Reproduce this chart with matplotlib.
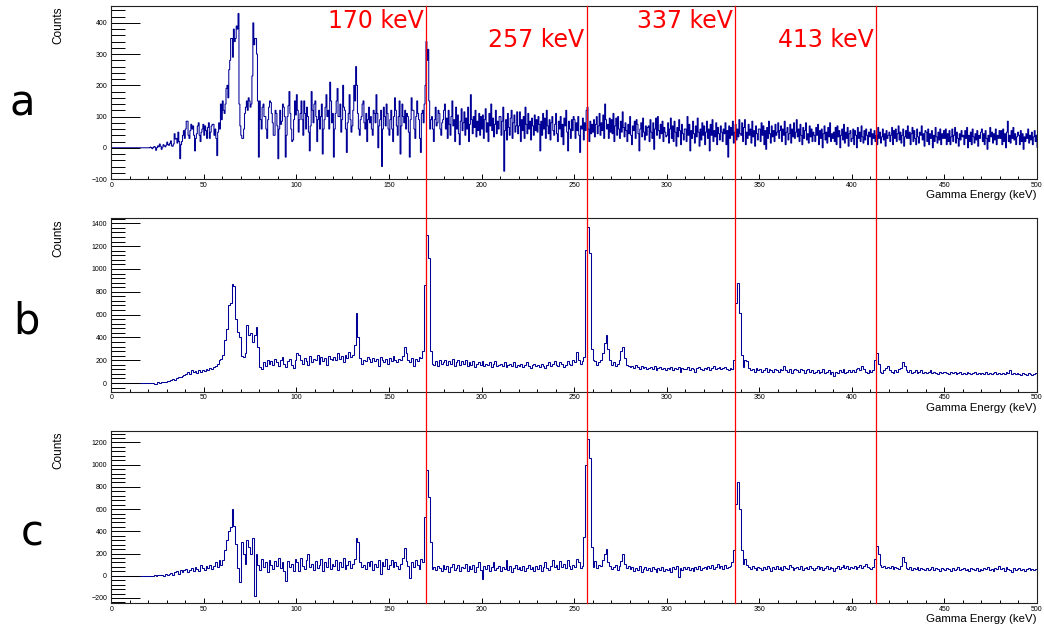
import numpy as np
import matplotlib
matplotlib.use('Agg')
import matplotlib.pyplot as plt
import matplotlib.transforms as mtransforms
from matplotlib.lines import Line2D
from matplotlib.ticker import MultipleLocator

# spectrum a: 0.5 keV bins from 0 keV
counts_a = [
    0, 0, 0, 0, 0, 0, 0, 0, 0, 0, 0, 0, 0, 0, 0, 0, 0, 0, 0, 0,
    0, 0, 0, 0, 0, 0, 0, 0, 0, 0, 0, 0, 0, 0, 0, 0, 0, 0, 0, 0,
    0, 0, 2, 0, -3, 1, 4, 2, -8, 0, 6, 3, 12, 5, -5, 2, 10, 6, 3, 8,
    18, 10, 8, 14, 22, 6, 5, 12, 45, 28, 30, 15, 50, 20, -35, 10, 20, 40, 55, 30,
    60, 85, 85, 40, 30, 55, 75, 60, 70, 40, -10, 30, 45, 70, 80, 40, 20, 50, 60, 75,
    40, 70, 55, 30, 65, 80, 30, 50, 70, 75, 75, 40, 60, 30, -25, 50, 80, 60, 140, 90,
    150, 120, 110, 140, 190, 200, 160, 250, 280, 350, 350, 290, 380, 340, 350, 390, 380, 430, 140, 70,
    40, 30, 30, 60, 110, 130, 150, 120, 160, 150, 130, 140, 230, 400, 330, 350, 350, 300, 150, -30,
    150, 90, 60, 130, 140, 100, 100, 60, 30, 90, 130, 150, 145, 110, 80, 40, 40, 120, 110, 70,
    -35, 60, 120, 75, 85, 140, 130, 100, -30, 40, 100, 135, 180, 110, 60, 20, 25, 90, 150, 105,
    170, 120, 50, 90, 110, 150, 90, 40, 150, 110, 60, 130, 100, 50, -10, 70, 180, 120, 80, 140,
    150, 100, 20, 90, 120, 60, 100, 140, -20, 60, 90, 130, 170, 100, 120, 60, 210, 150, 80, 110,
    -30, 60, 110, 150, 190, 100, 100, 140, 50, 90, 200, 130, 120, 60, -15, 80, 110, 170, 90, 50,
    70, 120, 200, 150, 260, 200, 110, 60, 40, 90, 100, 140, 150, 80, 60, 110, 20, 90, 130, 80,
    100, 60, 40, 120, 110, 80, 170, 110, 0, 70, 90, 120, -60, 60, 130, 100, 70, 140, 110, 60,
    40, 90, 120, 60, 20, 100, 160, 120, 70, 40, 100, 150, -20, 70, 140, 100, 80, 120, 60, 110,
    100, 50, -30, 90, 160, 120, 120, 60, 30, 100, 150, 110, 90, 30, -15, 110, 120, 80, 140, 200,
    340, 280, 315, 150, 60, 90, 100, 60, 20, 90, 130, 70, 80, 120, 110, 60, 40, 80, 90, 120,
    140, 60, 95, 30, 120, 75, 40, 100, 150, 70, 90, 20, 130, 60, 105, 45, 10, 85, 125, 55,
    80, 115, 40, 95, 60, 130, 20, 75, 170, 90, 45, 100, 65, 120, 35, 85, 55, 110, 40, 100,
    60, 105, 30, 90, 125, 50, 80, 20, 110, 70, 140, 55, 95, 35, 75, 120, 45, 85, 60, 100,
    100, 40, 85, 130, -75, 55, 90, 25, 110, 65, 40, 95, 120, 30, 80, 105, 50, 70, 115, 45,
    70, 115, 20, 90, 55, 100, 30, 130, 75, 45, 110, 60, 85, 25, 95, 70, 40, 105, 55, 90,
    50, 100, 75, -10, 85, 40, 110, 60, 95, 30, 120, 70, 45, 90, 25, 80, 100, 55, 40, 75,
    110, 45, 20, 85, 60, 100, 35, 75, 10, 95, 70, 120, 50, -10, 85, 60, 30, 90, 55, 100,
    90, 30, 80, 55, 100, 40, -15, 70, 60, 95, 25, 80, 55, 120, 130, 60, 20, 85, 45, 75,
    50, 90, 35, 75, 100, 45, 70, 110, 40, 80, 55, 105, 30, 140, 90, 60, 75, 30, 95, 50,
    90, 45, 110, 20, 70, 95, 40, 100, 60, 30, 85, 50, 115, 65, 35, 80, 55, 20, 75, 45,
    100, 40, 10, 70, 55, 85, 30, 90, 75, 45, -10, 60, 80, 35, 95, 50, 25, 70, 40, 65,
    70, 20, 90, 50, 30, 80, -5, 60, 95, 40, 100, 55, 30, 75, 45, 85, 20, 65, 50, 35,
    40, 80, 15, 60, 95, 30, 70, 20, 85, 50, 5, 65, 35, 90, 55, 10, 75, 45, 25, 60,
    60, 20, 100, 40, 75, -10, 55, 30, 85, 45, 15, 70, 35, 95, 50, 5, 60, 25, 80, 40,
    70, 10, 50, 85, 30, 60, -10, 75, 40, 90, 20, 55, 35, 80, 10, 65, 45, 25, 70, 50,
    20, 60, 45, 80, 10, 55, -30, 70, 30, 65, 40, 85, 15, 50, 75, 25, 60, 35, 90, 45,
    40, 80, 20, 65, 90, 10, 50, 30, 75, 40, 60, 15, 85, 35, 55, 5, 70, 45, 25, 60,
    60, 20, 80, 40, 70, 10, 55, -5, 65, 30, 85, 45, 15, 70, 35, 55, 20, 75, 40, 50,
    80, 30, 55, 70, 20, 60, 40, 85, 10, 50, 65, 25, 45, 75, 15, 60, 35, 80, 30, 50,
    90, 35, 60, 20, 75, 40, 10, 65, 30, 55, 80, 25, 45, 15, 70, 35, 60, 20, 50, 40,
    20, 65, 40, 75, 10, 55, 30, 60, 0, 45, 70, 25, 50, 15, 65, 35, 80, 20, 45, 30,
    50, 20, 65, 10, 70, 35, 55, 0, 40, 60, 25, 75, 15, 50, 30, 65, 5, 45, 55, 20,
    30, 60, 10, 55, 40, 0, 65, 30, 50, 20, 70, 35, 15, 55, 25, 60, 40, 10, 50, 35,
    60, 10, 45, 30, 55, 20, 40, 10, 65, 30, 50, 15, 35, 60, 25, 45, 5, 55, 30, 40,
    50, 20, 40, 65, 10, 55, 30, 60, 20, 45, 70, 25, 50, 15, 40, 60, 5, 35, 55, 30,
    70, 30, 50, 10, 45, 65, 20, 55, 30, 10, 60, 35, 15, 50, 40, 70, 25, 45, 5, 55,
    50, 20, 60, 10, 45, 30, 55, 0, 40, 20, 65, 35, 15, 50, 25, 60, 10, 45, 30, 55,
    30, 60, 10, 45, 20, 55, 10, 35, 60, 20, 40, 65, 15, 50, 30, 5, 45, 25, 55, 35,
    40, 10, 55, 30, 65, 0, 40, 20, 50, 10, 60, 35, 15, 45, 25, 55, 5, 40, 30, 50,
    60, 20, 45, 10, 55, 30, -5, 40, 20, 65, 35, 50, 15, 45, 25, 60, 10, 40, 30, 55,
    30, 55, 10, 60, 20, 45, 0, 50, 85, 20, 40, 15, 55, 30, 65, 25, 45, 10, 35, 50,
    40, 10, 55, 20, 45, -5, 35, 20, 45, 30, 60, 15, 40, 25, 50, 10, 35, 55, 20, 40,
]

# spectra b and c: 1 keV bins from 0 keV
counts_b = [
    0, 0, 0, 0, 0, 0, 0, 0, 0, 0,
    0, 0, 0, 0, 0, 0, 0, 0, 0, 0,
    0, 0, 0, -5, -5, 5, 2, 8, 5, 12,
    15, 20, 25, 35, 30, 45, 55, 50, 65, 70,
    80, 100, 75, 110, 95, 105, 90, 110, 100, 115,
    105, 120, 110, 130, 120, 140, 150, 170, 200, 210,
    250, 380, 470, 680, 700, 865, 850, 560, 450, 400,
    240, 230, 260, 510, 420, 440, 360, 420, 495, 320,
    140, 120, 180, 150, 200, 170, 190, 160, 210, 180,
    150, 200, 230, 170, 140, 190, 210, 160, 130, 200,
    260, 250, 200, 170, 220, 190, 160, 240, 180, 210,
    200, 250, 170, 230, 190, 220, 160, 240, 210, 200,
    230, 200, 260, 210, 240, 180, 250, 220, 270, 230,
    250, 330, 610, 400, 220, 170, 200, 190, 230, 210,
    180, 220, 190, 210, 150, 230, 200, 180, 210, 170,
    220, 190, 240, 200, 180, 210, 200, 240, 320, 260,
    200, 180, 220, 150, 210, 190, 230, 220, 280, 860,
    1300, 1100, 280, 170, 160, 190, 150, 200, 170, 180,
    200, 160, 190, 170, 210, 150, 180, 200, 160, 190,
    170, 200, 150, 180, 160, 190, 140, 170, 180, 160,
    190, 150, 170, 160, 180, 140, 170, 190, 150, 160,
    170, 150, 180, 140, 160, 170, 150, 180, 140, 160,
    150, 170, 140, 160, 180, 150, 130, 160, 170, 150,
    160, 140, 170, 150, 130, 160, 180, 150, 170, 190,
    160, 150, 180, 170, 140, 160, 190, 170, 160, 200,
    180, 270, 200, 170, 190, 230, 1170, 1365, 1140, 300,
    200, 190, 160, 180, 200, 260, 350, 420, 300, 200,
    160, 180, 150, 170, 200, 280, 320, 220, 160, 150,
    140, 150, 130, 160, 140, 120, 150, 130, 140, 120,
    130, 140, 120, 150, 110, 130, 140, 120, 130, 110,
    130, 120, 140, 110, 130, 120, 140, 100, 130, 120,
    120, 140, 110, 130, 120, 100, 130, 140, 120, 110,
    130, 120, 140, 110, 130, 150, 120, 130, 140, 120,
    130, 140, 120, 110, 130, 120, 200, 700, 875, 610,
    250, 140, 200, 190, 130, 110, 120, 100, 130, 110,
    120, 100, 110, 130, 100, 120, 110, 100, 120, 110,
    100, 120, 110, 150, 110, 100, 120, 90, 110, 120,
    110, 100, 120, 110, 90, 110, 120, 100, 110, 90,
    100, 110, 90, 100, 120, 90, 100, 110, 80, 100,
    60, 100, 90, 110, 100, 120, 90, 100, 110, 100,
    110, 100, 120, 130, 110, 150, 120, 100, 90, 110,
    100, 110, 200, 260, 170, 100, 90, 110, 130, 150,
    110, 100, 90, 110, 100, 120, 130, 180, 150, 110,
    100, 110, 90, 100, 110, 90, 100, 110, 90, 100,
    90, 100, 110, 90, 100, 90, 80, 100, 90, 100,
    100, 90, 80, 100, 90, 100, 80, 90, 100, 80,
    90, 80, 100, 90, 80, 90, 100, 80, 90, 80,
    90, 80, 100, 80, 90, 80, 90, 100, 80, 90,
    80, 90, 80, 100, 90, 110, 80, 90, 80, 90,
    80, 70, 90, 80, 70, 90, 80, 70, 80, 90,
]

counts_c = [
    0, 0, 0, 0, 0, 0, 0, 0, 0, 0,
    0, 0, 0, 0, 0, 0, 0, 0, 0, 0,
    0, 0, 0, 5, -5, 8, 3, 10, -3, 12,
    5, 15, 25, 10, 30, 40, 20, 55, 35, 50,
    60, 30, 50, 70, 40, 80, 60, 45, 100, 70,
    50, 90, 70, 100, 60, 90, 120, 80, 140, 100,
    140, 230, 320, 400, 440, 600, 450, 290, 70, -60,
    300, 200, 110, 320, 260, 200, 340, -180, 200, 100,
    50, 150, 80, 120, 30, 140, 100, 60, 130, 90,
    160, 70, 120, 40, -50, 130, 80, 110, 40, 150,
    120, 40, 160, 90, 60, 140, 200, 80, 110, 50,
    130, 70, 100, 150, 40, 120, 80, 160, 60, 110,
    90, 140, 50, 120, 80, 160, 60, 100, 130, 70,
    110, 150, 340, 300, 120, 80, 100, 60, 120, 90,
    130, 50, 110, 80, 140, 20, 120, 90, 150, 60,
    100, 140, 80, 120, 90, 60, 110, 160, 250, 130,
    90, -20, 120, 80, 140, 100, 60, 150, 120, 530,
    950, 710, 300, 60, 80, 50, 90, 70, 40, 100,
    60, 90, 30, 80, 110, 50, 70, 100, 40, 80,
    70, 110, 40, 90, 60, 100, 30, 80, 120, 50,
    -30, 90, 60, 100, 40, 80, 120, 50, 70, 90,
    40, 80, 60, 140, 50, 90, 30, 70, 100, 60,
    80, 50, 90, 40, 70, 100, 60, 80, 40, 90,
    60, 100, 40, 80, 120, 70, 50, 90, 140, 80,
    100, 60, 130, 80, 110, 70, 140, 90, 60, 100,
    80, 150, 120, 70, 90, 350, 1000, 1230, 1060, 260,
    80, 130, 70, 100, 90, 140, 200, 240, 120, 90,
    60, 80, 100, 50, 90, 130, 200, 110, 70, 90,
    60, 80, 40, 70, 50, 90, 30, 60, 80, 50,
    70, 40, 80, 60, 30, 70, 50, 80, 40, 60,
    50, 70, 30, 80, 60, 90, -10, 70, 50, 80,
    60, 80, 50, 70, 40, 80, 60, 90, 50, 70,
    80, 60, 90, 70, 100, 60, 80, 110, 70, 90,
    60, 100, 70, 80, 90, 120, 230, 650, 840, 600,
    230, 110, 150, 100, 80, 60, 90, 70, 50, 80,
    70, 50, 80, 60, 90, 70, 40, 80, 60, 90,
    60, 80, 50, 90, 70, 60, 100, 80, 50, 70,
    80, 60, 90, 50, 70, 80, 60, 90, 70, 50,
    70, 90, 60, 80, 50, 70, 90, 60, 80, 70,
    40, 70, 90, 60, 80, 100, 70, 90, 60, 80,
    70, 90, 60, 80, 100, 70, 90, 110, 80, 70,
    60, 80, 150, 270, 200, 100, 80, 90, 70, 80,
    70, 90, 60, 80, 70, 60, 90, 170, 120, 70,
    60, 80, 50, 70, 60, 80, 50, 70, 60, 50,
    70, 50, 60, 80, 50, 70, 60, 40, 70, 60,
    50, 70, 60, 40, 70, 50, 60, 80, 50, 60,
    70, 50, 60, 40, 70, 60, 50, 70, 40, 60,
    50, 70, 60, 80, 50, 60, 40, 70, 60, 90,
    60, 70, 40, 80, 60, 50, 30, 70, 50, 60,
    70, 50, 60, 40, 60, 70, 50, 60, 50, 60,
]

bin_widths = [0.5, 1.0, 1.0]
peak_energies = [170, 257, 337, 413]
peak_labels = ['170 keV', '257 keV', '337 keV', '413 keV']
panel_letters = ['a', 'b', 'c']

W, H = 1044, 627
fig = plt.figure(figsize=(W / 100, H / 100), dpi=100)

def box(top, bottom, left=111.2, right=1037):
    # pixel box -> figure fraction
    return [left / W, 1 - bottom / H, (right - left) / W, (bottom - top) / H]

# (counts, top px, bottom px, ylim, major, minor)
panels = [
    (counts_a, 6, 179, (-100, 454), 100, 20),
    (counts_b, 218.3, 391.7, (-76, 1444), 200, 40),
    (counts_c, 430.7, 603.3, (-248, 1306), 200, 40),
]
letter_pos = [(10, 115), (13, 333), (21, 545)]

axes = []
for i, (counts, top, bottom, ylim, major, minor) in enumerate(panels):
    ax = fig.add_axes(box(top, bottom))
    edges = np.arange(len(counts) + 1) * bin_widths[i]
    ax.stairs(counts, edges, color='#000096', lw=0.75)
    ax.set_xlim(0, 500)
    ax.set_ylim(*ylim)
    ax.xaxis.set_major_locator(MultipleLocator(50))
    ax.xaxis.set_minor_locator(MultipleLocator(10))
    ax.yaxis.set_major_locator(MultipleLocator(major))
    ax.yaxis.set_minor_locator(MultipleLocator(minor))
    ax.tick_params(axis='y', which='major', direction='in', length=21, width=0.7,
                   labelsize=5, pad=3)
    ax.tick_params(axis='y', which='minor', direction='in', length=10, width=0.7)
    ax.tick_params(axis='x', which='major', direction='in', length=3.6, width=0.7,
                   labelsize=5, pad=2)
    ax.tick_params(axis='x', which='minor', direction='in', length=2, width=0.7)
    for lab in ax.get_xticklabels() + ax.get_yticklabels():
        lab.set_fontfamily('Liberation Sans')
    for s in ax.spines.values():
        s.set_linewidth(0.8)
        s.set_color('#222222')
    # axis titles, ROOT style
    fig.text(58.7 / W, 1 - (top + 1) / H, 'Counts', rotation=90, ha='center', va='top',
             fontsize=8.5, family='Liberation Sans')
    fig.text(1037 / W, 1 - (bottom + 16) / H, 'Gamma Energy (keV)', ha='right',
             va='center', fontsize=8.2, family='Liberation Sans')
    lx, ly = letter_pos[i]
    fig.text(lx / W, 1 - ly / H, panel_letters[i], ha='left', va='baseline',
             fontsize=30, family='DejaVu Sans')
    axes.append(ax)

# red marker lines from the top of panel a to the bottom of panel c
blend = mtransforms.blended_transform_factory(axes[0].transData, fig.transFigure)
text_tr = mtransforms.offset_copy(blend, fig=fig, x=-2.5, y=0, units='dots')
for j, (e, lab) in enumerate(zip(peak_energies, peak_labels)):
    fig.add_artist(Line2D([e, e], [1 - 6 / H, 1 - 603.3 / H], transform=blend,
                          color='red', lw=0.9))
    base = 28 if j % 2 == 0 else 47
    fig.text(e, 1 - base / H, lab, transform=text_tr, ha='right', va='baseline',
             color='red', fontsize=17, family='DejaVu Sans')

fig.savefig('out.png', dpi=100)
